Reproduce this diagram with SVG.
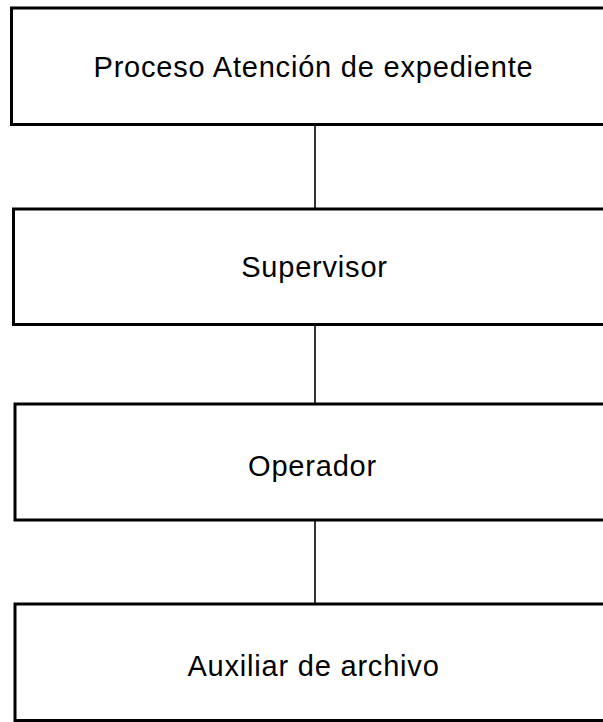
<svg xmlns="http://www.w3.org/2000/svg" width="603" height="722" viewBox="0 0 603 722">
<style>
.box{fill:#ffffff;stroke:#000000;stroke-width:3}
.lbl{font-family:"Liberation Sans",Arial,sans-serif;font-size:29px;letter-spacing:0.8px;fill:#000000;text-anchor:middle}
.con{stroke:#000000;stroke-width:1.6;fill:none}
</style>
<rect x="0" y="0" width="603" height="722" fill="#ffffff"/>
<g id="connectors">
<line class="con" x1="315" y1="124.5" x2="315" y2="209"/>
<line class="con" x1="315" y1="324.5" x2="315" y2="404"/>
<line class="con" x1="315" y1="520" x2="315" y2="604"/>
</g>
<g id="node-proceso">
<rect class="box" x="11.5" y="8" width="620" height="116.5"/>
<text class="lbl" x="313.5" y="77.3">Proceso Atención de expediente</text>
</g>
<g id="node-supervisor">
<rect class="box" x="13.5" y="209" width="620" height="115.5"/>
<text class="lbl" x="314.5" y="277.3">Supervisor</text>
</g>
<g id="node-operador">
<rect class="box" x="15" y="404" width="620" height="116"/>
<text class="lbl" x="312.5" y="476">Operador</text>
</g>
<g id="node-auxiliar">
<rect class="box" x="15" y="604" width="620" height="116.5"/>
<text class="lbl" x="313.5" y="676">Auxiliar de archivo</text>
</g>
</svg>
